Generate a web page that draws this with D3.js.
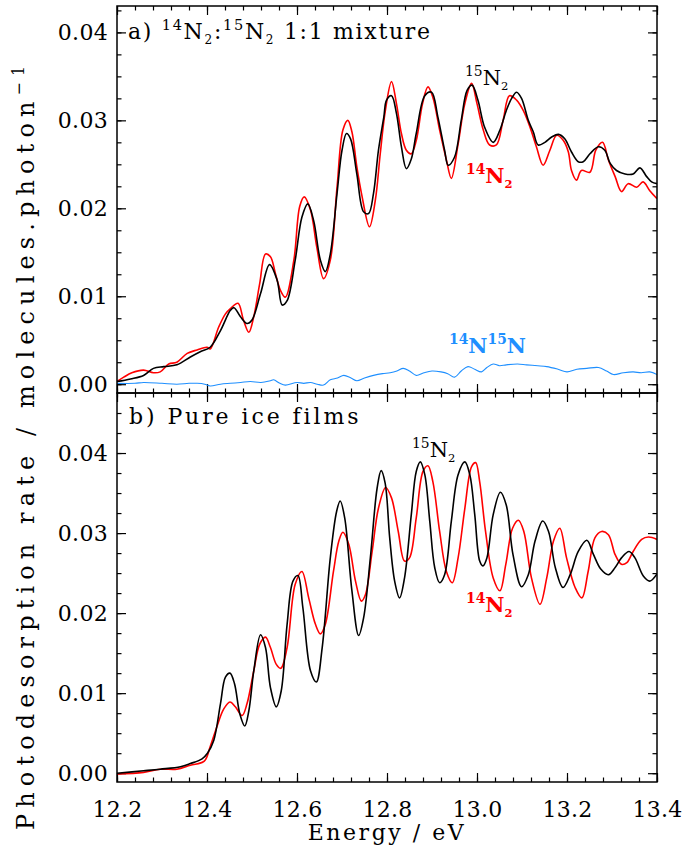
<!DOCTYPE html>
<html>
<head>
<meta charset="utf-8">
<script src="https://cdn.jsdelivr.net/npm/d3@7"></script>
<style>
  html, body { margin: 0; padding: 0; background: #fff; }
  svg { display: block; }
  svg text { font-family: "DejaVu Serif", serif !important; }
</style>
</head>
<body>
<svg id="chart" width="683" height="856"></svg>
<script>
// ---------------- DATA ----------------
const energyTicks = [12.2, 12.4, 12.6, 12.8, 13.0, 13.2, 13.4];
const rateTicks = [0.00, 0.01, 0.02, 0.03, 0.04];

// Panel a) 14N2:15N2 1:1 mixture  [energy eV, rate]
const mix15N2 = [[12.200,0.0003],[12.230,0.0006],[12.259,0.0010],[12.281,0.0018],[12.304,0.0020],[12.333,0.0022],[12.363,0.0031],[12.385,0.0037],[12.407,0.0042],[12.430,0.0061],[12.452,0.0084],[12.460,0.0087],[12.474,0.0077],[12.489,0.0069],[12.500,0.0073],[12.519,0.0103],[12.539,0.0136],[12.556,0.0118],[12.567,0.0090],[12.578,0.0095],[12.596,0.0141],[12.611,0.0190],[12.624,0.0205],[12.637,0.0186],[12.652,0.0141],[12.663,0.0128],[12.674,0.0148],[12.689,0.0217],[12.700,0.0266],[12.710,0.0285],[12.719,0.0279],[12.733,0.0239],[12.748,0.0196],[12.759,0.0194],[12.770,0.0217],[12.781,0.0266],[12.793,0.0304],[12.799,0.0323],[12.810,0.0328],[12.821,0.0308],[12.832,0.0270],[12.843,0.0245],[12.854,0.0256],[12.865,0.0285],[12.884,0.0328],[12.899,0.0332],[12.913,0.0304],[12.928,0.0266],[12.936,0.0249],[12.950,0.0258],[12.965,0.0300],[12.978,0.0334],[12.989,0.0340],[13.002,0.0323],[13.017,0.0292],[13.036,0.0275],[13.051,0.0289],[13.065,0.0311],[13.077,0.0325],[13.088,0.0332],[13.099,0.0325],[13.114,0.0300],[13.125,0.0287],[13.136,0.0272],[13.151,0.0275],[13.166,0.0281],[13.181,0.0284],[13.195,0.0279],[13.210,0.0264],[13.225,0.0253],[13.236,0.0253],[13.251,0.0262],[13.270,0.0270],[13.284,0.0266],[13.296,0.0251],[13.310,0.0243],[13.329,0.0239],[13.347,0.0239],[13.362,0.0246],[13.377,0.0236],[13.388,0.0230],[13.400,0.0228]];

const mix14N2 = [[12.200,0.0003],[12.215,0.0008],[12.233,0.0013],[12.259,0.0016],[12.281,0.0013],[12.296,0.0014],[12.315,0.0023],[12.333,0.0025],[12.356,0.0035],[12.378,0.0039],[12.400,0.0042],[12.407,0.0040],[12.426,0.0065],[12.441,0.0080],[12.452,0.0086],[12.469,0.0092],[12.481,0.0073],[12.493,0.0059],[12.504,0.0077],[12.517,0.0114],[12.530,0.0148],[12.541,0.0145],[12.552,0.0126],[12.563,0.0107],[12.574,0.0099],[12.593,0.0141],[12.606,0.0202],[12.616,0.0213],[12.630,0.0198],[12.644,0.0156],[12.659,0.0120],[12.674,0.0141],[12.689,0.0224],[12.702,0.0289],[12.713,0.0300],[12.722,0.0287],[12.733,0.0247],[12.744,0.0215],[12.761,0.0179],[12.774,0.0209],[12.785,0.0262],[12.796,0.0310],[12.810,0.0344],[12.821,0.0319],[12.832,0.0285],[12.843,0.0266],[12.854,0.0262],[12.865,0.0277],[12.879,0.0319],[12.891,0.0338],[12.902,0.0326],[12.917,0.0289],[12.932,0.0255],[12.943,0.0234],[12.958,0.0273],[12.973,0.0319],[12.988,0.0342],[13.000,0.0319],[13.014,0.0289],[13.028,0.0272],[13.043,0.0272],[13.058,0.0300],[13.072,0.0328],[13.088,0.0323],[13.103,0.0311],[13.118,0.0292],[13.132,0.0270],[13.147,0.0249],[13.162,0.0266],[13.177,0.0283],[13.192,0.0277],[13.203,0.0264],[13.210,0.0243],[13.221,0.0232],[13.232,0.0243],[13.251,0.0241],[13.264,0.0266],[13.279,0.0275],[13.292,0.0255],[13.307,0.0236],[13.321,0.0219],[13.336,0.0228],[13.355,0.0224],[13.369,0.0230],[13.384,0.0220],[13.400,0.0211]];

const mix14N15N = [[12.200,0.0001],[12.240,0.0001],[12.259,0.0002],[12.300,0.0001],[12.333,0.0000],[12.360,0.0001],[12.378,0.0001],[12.395,0.0000],[12.407,-0.0002],[12.430,0.0000],[12.452,0.0001],[12.475,0.0002],[12.496,0.0003],[12.520,0.0002],[12.541,0.0004],[12.548,0.0005],[12.562,0.0001],[12.574,-0.0001],[12.600,0.0002],[12.615,0.0001],[12.630,0.0002],[12.645,0.0000],[12.659,-0.0001],[12.674,0.0005],[12.690,0.0007],[12.704,0.0010],[12.720,0.0007],[12.733,0.0004],[12.750,0.0007],[12.770,0.0010],[12.790,0.0012],[12.807,0.0013],[12.822,0.0015],[12.836,0.0018],[12.850,0.0015],[12.865,0.0010],[12.882,0.0013],[12.900,0.0015],[12.920,0.0014],[12.935,0.0012],[12.950,0.0008],[12.965,0.0015],[12.980,0.0020],[12.995,0.0017],[13.010,0.0014],[13.022,0.0019],[13.036,0.0023],[13.050,0.0021],[13.065,0.0022],[13.090,0.0023],[13.110,0.0022],[13.135,0.0021],[13.155,0.0020],[13.180,0.0017],[13.200,0.0014],[13.222,0.0017],[13.244,0.0018],[13.270,0.0019],[13.288,0.0015],[13.303,0.0011],[13.325,0.0013],[13.347,0.0014],[13.365,0.0013],[13.384,0.0014],[13.400,0.0011]];

// Panel b) Pure ice films
const pure15N2 = [[12.200,0.0000],[12.259,0.0003],[12.296,0.0005],[12.341,0.0008],[12.363,0.0012],[12.389,0.0018],[12.401,0.0025],[12.415,0.0041],[12.430,0.0087],[12.441,0.0120],[12.451,0.0125],[12.461,0.0112],[12.473,0.0074],[12.484,0.0059],[12.493,0.0078],[12.504,0.0128],[12.519,0.0173],[12.530,0.0157],[12.541,0.0107],[12.554,0.0083],[12.565,0.0103],[12.578,0.0186],[12.591,0.0240],[12.602,0.0247],[12.613,0.0207],[12.630,0.0128],[12.643,0.0114],[12.656,0.0157],[12.674,0.0269],[12.688,0.0327],[12.696,0.0340],[12.706,0.0319],[12.722,0.0228],[12.737,0.0172],[12.748,0.0194],[12.763,0.0269],[12.778,0.0356],[12.787,0.0378],[12.796,0.0362],[12.806,0.0294],[12.817,0.0240],[12.828,0.0219],[12.839,0.0244],[12.854,0.0323],[12.865,0.0377],[12.874,0.0389],[12.884,0.0373],[12.895,0.0315],[12.906,0.0257],[12.917,0.0238],[12.928,0.0248],[12.943,0.0315],[12.958,0.0373],[12.973,0.0389],[12.984,0.0373],[12.995,0.0323],[13.006,0.0265],[13.013,0.0259],[13.022,0.0269],[13.036,0.0323],[13.052,0.0351],[13.065,0.0335],[13.080,0.0273],[13.099,0.0233],[13.114,0.0248],[13.129,0.0290],[13.146,0.0315],[13.159,0.0302],[13.174,0.0257],[13.191,0.0232],[13.207,0.0248],[13.225,0.0277],[13.244,0.0291],[13.259,0.0273],[13.275,0.0255],[13.292,0.0248],[13.307,0.0257],[13.321,0.0269],[13.338,0.0277],[13.351,0.0269],[13.370,0.0246],[13.384,0.0240],[13.400,0.0249]];

const pure14N2 = [[12.200,-0.0001],[12.259,0.0001],[12.296,0.0005],[12.333,0.0005],[12.363,0.0010],[12.394,0.0015],[12.407,0.0033],[12.422,0.0058],[12.437,0.0080],[12.451,0.0089],[12.463,0.0083],[12.478,0.0072],[12.489,0.0087],[12.504,0.0128],[12.517,0.0161],[12.530,0.0170],[12.541,0.0157],[12.554,0.0136],[12.564,0.0131],[12.578,0.0157],[12.596,0.0236],[12.611,0.0252],[12.626,0.0219],[12.641,0.0186],[12.652,0.0174],[12.663,0.0186],[12.681,0.0252],[12.693,0.0290],[12.702,0.0301],[12.715,0.0286],[12.730,0.0240],[12.743,0.0215],[12.752,0.0223],[12.767,0.0277],[12.781,0.0331],[12.797,0.0357],[12.810,0.0344],[12.825,0.0302],[12.839,0.0265],[12.850,0.0269],[12.865,0.0319],[12.880,0.0377],[12.891,0.0384],[12.902,0.0364],[12.917,0.0302],[12.932,0.0252],[12.945,0.0238],[12.958,0.0269],[12.973,0.0331],[12.988,0.0383],[12.997,0.0388],[13.006,0.0364],[13.019,0.0302],[13.036,0.0244],[13.051,0.0228],[13.064,0.0261],[13.079,0.0306],[13.092,0.0316],[13.104,0.0302],[13.121,0.0244],[13.140,0.0211],[13.155,0.0244],[13.170,0.0290],[13.184,0.0306],[13.199,0.0269],[13.218,0.0232],[13.233,0.0219],[13.247,0.0252],[13.262,0.0294],[13.277,0.0302],[13.292,0.0298],[13.307,0.0273],[13.321,0.0261],[13.333,0.0263],[13.347,0.0277],[13.366,0.0292],[13.381,0.0295],[13.400,0.0292]];

// ---------------- CHART ----------------
const FONT = '"DejaVu Serif", serif';
const svg = d3.select('#chart');
const L = 117, R = 657;
const RED = '#ff0000', BLUE = '#1e8fff', BLACK = '#000000';

const x = d3.scaleLinear().domain([12.2, 13.4]).range([L, R]);
const yA = d3.scaleLinear().domain([-0.001, 0.043]).range([393, 6]);
const yB = d3.scaleLinear().domain([-0.0011, 0.0475]).range([782, 393]);

const xMinor = d3.range(0, 31).map(i => +(12.2 + i * 0.04).toFixed(3));
const yMinor = d3.range(0, 20).map(i => +(i * 0.0025).toFixed(4));

function strip(g) {
  g.attr('font-family', FONT);
  g.select('.domain').remove();
  g.selectAll('line').attr('stroke', '#000').attr('stroke-width', 1.2);
}

function panel(y, top, bottom, id, showX) {
  const g = svg.append('g');
  const minorY = yMinor.filter(v => y(v) > top + 1 && y(v) < bottom - 1);
  g.append('g').attr('transform', `translate(${L},0)`)
    .call(d3.axisLeft(y).tickValues(minorY).tickSize(-4.5).tickFormat('')).call(strip);
  g.append('g').attr('transform', `translate(${L},0)`)
    .call(d3.axisLeft(y).tickValues(rateTicks).tickSize(-9).tickPadding(9).tickFormat(d3.format('.2f')))
    .call(strip)
    .call(s => s.selectAll('text').attr('font-size', 22).attr('fill', '#000').attr('font-family', FONT).attr('letter-spacing', '0.3px'));
  g.append('g').attr('transform', `translate(${R},0)`)
    .call(d3.axisRight(y).tickValues(minorY).tickSize(-4.5).tickFormat('')).call(strip);
  g.append('g').attr('transform', `translate(${R},0)`)
    .call(d3.axisRight(y).tickValues(rateTicks).tickSize(-9).tickFormat('')).call(strip);
  g.append('g').attr('transform', `translate(0,${top})`)
    .call(d3.axisTop(x).tickValues(xMinor).tickSize(-4.5).tickFormat('')).call(strip);
  g.append('g').attr('transform', `translate(0,${top})`)
    .call(d3.axisTop(x).tickValues(energyTicks).tickSize(-9).tickFormat('')).call(strip);
  g.append('g').attr('transform', `translate(0,${bottom})`)
    .call(d3.axisBottom(x).tickValues(xMinor).tickSize(-4.5).tickFormat('')).call(strip);
  const bx = g.append('g').attr('transform', `translate(0,${bottom})`)
    .call(d3.axisBottom(x).tickValues(energyTicks).tickSize(-9).tickPadding(19)
      .tickFormat(showX ? d3.format('.1f') : ''))
    .call(strip);
  if (showX) bx.selectAll('text').attr('font-size', 22).attr('fill', '#000').attr('font-family', FONT).attr('letter-spacing', '0.3px');

  svg.append('clipPath').attr('id', id).append('rect')
    .attr('x', L).attr('y', top).attr('width', R - L).attr('height', bottom - top);
  return svg.append('g').attr('clip-path', `url(#${id})`);
}

const gA = panel(yA, 6, 393, 'clipA', false);
const gB = panel(yB, 393, 782, 'clipB', true);

const lineA = d3.line().x(d => x(d[0])).y(d => yA(d[1])).curve(d3.curveCatmullRom.alpha(0.5));
const lineB = d3.line().x(d => x(d[0])).y(d => yB(d[1])).curve(d3.curveCatmullRom.alpha(0.5));

gA.append('path').datum(mix14N15N).attr('d', lineA).attr('fill', 'none').attr('stroke', BLUE).attr('stroke-width', 1.1);
gA.append('path').datum(mix14N2).attr('d', lineA).attr('fill', 'none').attr('stroke', RED).attr('stroke-width', 1.6);
gA.append('path').datum(mix15N2).attr('d', lineA).attr('fill', 'none').attr('stroke', BLACK).attr('stroke-width', 1.6);

gB.append('path').datum(pure14N2).attr('d', lineB).attr('fill', 'none').attr('stroke', RED).attr('stroke-width', 1.6);
gB.append('path').datum(pure15N2).attr('d', lineB).attr('fill', 'none').attr('stroke', BLACK).attr('stroke-width', 1.6);

[[6, 393], [393, 782]].forEach(([t, b]) => {
  svg.append('rect').attr('x', L).attr('y', t).attr('width', R - L).attr('height', b - t)
    .attr('fill', 'none').attr('stroke', '#000').attr('stroke-width', 1.5);
});

// ---------- labels ----------
function rich(parent, x0, baseline, parts, color, size, weight) {
  const t = parent.append('text').attr('x', x0).attr('y', baseline).attr('fill', color)
    .attr('font-family', FONT).attr('font-weight', weight || 'normal').attr('xml:space', 'preserve');
  let cur = 0;
  parts.forEach(([txt, kind]) => {
    const target = kind === 'sup' ? -size * 0.42 : kind === 'sub' ? size * 0.22 : 0;
    const fs = kind === 'sup' ? size * 0.66 : kind === 'sub' ? size * 0.55 : size;
    t.append('tspan').attr('dy', target - cur).attr('font-size', fs).text(txt);
    cur = target;
  });
  return t;
}
function fit(t, target) {
  const w = t.node().getComputedTextLength();
  const n = t.node().getNumberOfChars();
  t.attr('letter-spacing', ((target - w) / Math.max(n - 1, 1)) + 'px');
}

const ta = rich(svg, 128, 39, [['a) ', 'n'], ['14', 'sup'], ['N', 'n'], ['2', 'sub'], [':', 'n'], ['15', 'sup'], ['N', 'n'], ['2', 'sub'], [' 1:1 mixture', 'n']], '#000', 22);
fit(ta, 302);
const tb = rich(svg, 129, 424, [['b) Pure ice films', 'n']], '#000', 22);
fit(tb, 229);

rich(svg, 465, 85, [['15', 'sup'], ['N', 'n'], ['2', 'sub']], BLACK, 21);
rich(svg, 466, 183, [['14', 'sup'], ['N', 'n'], ['2', 'sub']], RED, 21, 'bold');
rich(svg, 449, 353, [['14', 'sup'], ['N', 'n'], ['15', 'sup'], ['N', 'n']], BLUE, 21, 'bold');
rich(svg, 412, 457, [['15', 'sup'], ['N', 'n'], ['2', 'sub']], BLACK, 21);
rich(svg, 466, 612, [['14', 'sup'], ['N', 'n'], ['2', 'sub']], RED, 21, 'bold');

const tx = svg.append('text').attr('x', 387).attr('y', 840).attr('text-anchor', 'middle')
  .attr('font-family', FONT).attr('font-size', 22).attr('fill', '#000').attr('xml:space', 'preserve').text('Energy / eV');
fit(tx, 156);

const ty = svg.append('g').attr('transform', 'translate(34,830) rotate(-90)');
const tyt = rich(ty, 0, 0, [['Photodesorption rate / molecules.photon', 'n'], ['−1', 'sup']], '#000', 24);
fit(tyt, 764);
</script>
</body>
</html>
